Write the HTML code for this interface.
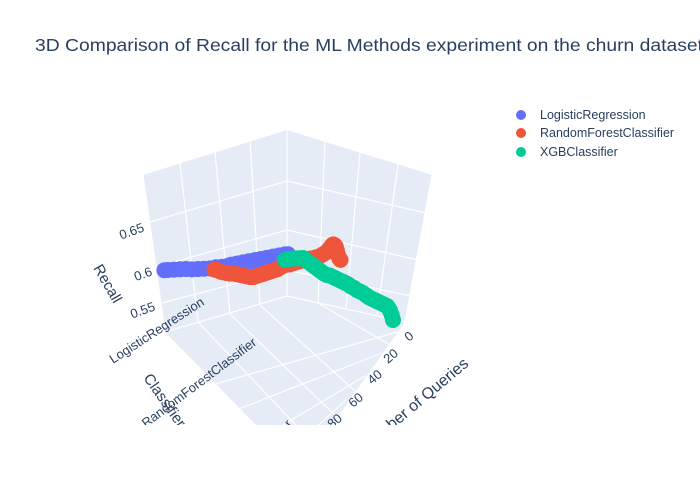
<!DOCTYPE html>
<html><head><meta charset="utf-8"><style>
body{margin:0;background:#fff}
svg{display:block;font-family:"Liberation Sans",Arial,sans-serif}
</style></head><body>
<svg id="chart" width="700" height="500" viewBox="0 0 700 500">
<rect width="700" height="500" fill="#fff"/>
<text x="35" y="51" font-size="17.5" fill="#2a3f5f" textLength="668" lengthAdjust="spacingAndGlyphs">3D Comparison of Recall for the ML Methods experiment on the churn dataset</text>
<defs><clipPath id="sc"><rect x="0" y="60" width="500" height="365"/></clipPath></defs>
<g clip-path="url(#sc)">
 <polygon points="143,175 287,130 287,296 165,332" fill="#e5ecf6"/>
 <polygon points="287,130 432,175 405,322 287,296" fill="#e5ecf6"/>
 <polygon points="287,296 405,322 300,470 165,332" fill="#e5ecf6"/>
 <g id="grid" stroke="#fff" stroke-width="1.2" fill="none">
  <line x1="287" y1="130" x2="287" y2="296"/>
  <line x1="143" y1="175" x2="165" y2="332"/>
  <line x1="432" y1="175" x2="405" y2="322"/>
  <line x1="180" y1="163" x2="198" y2="322"/><line x1="215" y1="152" x2="230" y2="314"/><line x1="250" y1="141" x2="260" y2="305"/>
  <line x1="325" y1="142" x2="318" y2="303"/><line x1="360" y1="153" x2="346" y2="309"/><line x1="398" y1="165" x2="377" y2="315"/>
  <line x1="147" y1="223" x2="287" y2="181"/><line x1="153" y1="268" x2="287" y2="230"/><line x1="158" y1="304" x2="287" y2="270"/>
  <line x1="287" y1="181" x2="426" y2="213"/><line x1="287" y1="230" x2="418" y2="260"/><line x1="287" y1="270" x2="411" y2="296"/>
  <line x1="287" y1="296" x2="165" y2="332"/><line x1="287" y1="296" x2="405" y2="322"/>
  <line x1="397" y1="332" x2="212" y2="385"/><line x1="382" y1="353" x2="236" y2="410"/><line x1="365" y1="376" x2="258" y2="440"/><line x1="346" y1="400" x2="280" y2="460"/>
  <line x1="230" y1="314" x2="340" y2="420"/><line x1="260" y1="305" x2="365" y2="400"/><line x1="318" y1="303" x2="390" y2="345"/><line x1="198" y1="322" x2="310" y2="440"/>
 </g>
 <g id="marks"></g>
 <g font-size="13" fill="#2a3f5f">
  <text transform="translate(145,231) rotate(-20)" text-anchor="end">0.65</text>
  <text transform="translate(153,275) rotate(-20)" text-anchor="end">0.6</text>
  <text transform="translate(156,310) rotate(-20)" text-anchor="end">0.55</text>
  <text transform="translate(93,268) rotate(60)" font-size="15">Recall</text>
  <text transform="translate(113,364) rotate(-33)">LogisticRegression</text>
  <text transform="translate(146,428) rotate(-37)">RandomForestClassifier</text>
  <text transform="translate(293,424) rotate(-55)" text-anchor="end">XGBClassifier</text>
  <text transform="translate(143,378) rotate(55)" font-size="15">Classifier</text>
  <text transform="translate(409,342) rotate(-40)">0</text>
  <text transform="translate(388,364) rotate(-40)">20</text>
  <text transform="translate(372,385) rotate(-40)">40</text>
  <text transform="translate(353,408) rotate(-40)">60</text>
  <text transform="translate(332,429) rotate(-40)">80</text>
  <text transform="translate(366,452) rotate(-40)" font-size="16">Number of Queries</text>
 </g>
</g>
<g font-size="12.5" fill="#2a3f5f">
 <g><circle cx="521" cy="115" r="5" fill="#636efa"/><text x="540" y="119">LogisticRegression</text></g>
 <g><circle cx="521" cy="133" r="5" fill="#ef553b"/><text x="540" y="137">RandomForestClassifier</text></g>
 <g><circle cx="521" cy="152" r="5" fill="#00cc96"/><text x="540" y="156">XGBClassifier</text></g>
</g>
<script>
const seriesNames = ["LogisticRegression","RandomForestClassifier","XGBClassifier"];
const seriesColors = ["#636efa","#ef553b","#00cc96"];
const lrQueries = [0,2.5,5,7.5,10,12.5,15,17.5,20,22.5,25,27.5,30,32.5,35,37.5,40,42.5,45,47.5,50,55,60,65,70,75,80,85,90,95,100,103];
const lrRecall = [.606,.606,.605,.605,.604,.604,.603,.603,.602,.602,.601,.601,.600,.600,.599,.599,.598,.598,.597,.597,.596,.595,.595,.594,.594,.594,.594,.595,.595,.595,.595,.595];
const rfQueries = [0,1,2,3,4,5,6,7,8,9,10,12.5,15,17.5,20,22.5,25,27.5,30,32.5,35,37.5,40,42.5,45,47.5,50,52.5,55,57.5,60,62.5,65,67.5,70,72.5,75,77.5,80,82.5,85,87.5,90,92.5,95,97.5,100,102.5,105];
const rfRecall = [.612,.614,.618,.624,.629,.631,.632,.631,.629,.627,.625,.622,.620,.618,.617,.616,.616,.615,.615,.614,.613,.612,.611,.610,.610,.609,.607,.605,.604,.603,.602,.601,.600,.599,.598,.597,.597,.598,.599,.600,.601,.602,.603,.603,.604,.605,.606,.608,.609];
const xgbQueries = [0,1,2.5,4,5,7.5,10,12.5,15,17.5,20,22.5,25,27.5,30,32.5,35,37.5,40,42.5,45,47.5,50,52.5,55,57.5,60,62.5,65,67.5,70,72.5,75,77.5,80,82.5,85,87.5,90];
const xgbRecall = [.550,.556,.562,.566,.568,.570,.572,.574,.576,.578,.580,.583,.586,.588,.590,.593,.595,.598,.600,.602,.604,.606,.608,.610,.611,.613,.616,.619,.622,.625,.628,.631,.634,.634,.634,.634,.634,.634,.633];
function proj(q, ci, r){
  return [288 + ci*52.5 - q*1.2, 259 + ci*10.5 + q*0.07 - (r-0.6)*800];
}
const g = document.getElementById('marks');
const all = [[lrQueries,lrRecall],[rfQueries,rfRecall],[xgbQueries,xgbRecall]];
all.forEach((s,ci)=>{
  const grp = document.createElementNS('http://www.w3.org/2000/svg','g');
  
  
  s[0].forEach((q,i)=>{
    const p = proj(q, ci, s[1][i]);
    const c = document.createElementNS('http://www.w3.org/2000/svg','circle');
    c.setAttribute('cx', p[0]); c.setAttribute('cy', p[1]); c.setAttribute('r', 8);
    c.setAttribute('fill', seriesColors[ci]);
    
    
    grp.appendChild(c);
  });
  g.appendChild(grp);
});
</script>
</svg>
</body></html>
